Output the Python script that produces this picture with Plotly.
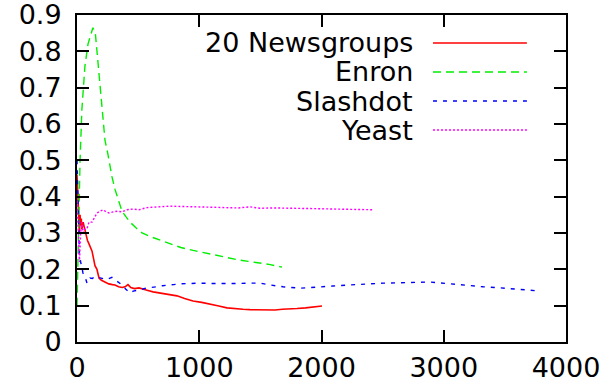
import plotly.graph_objects as go

# --- series data --------------------------------------------------------
news_x = [0, 5, 10, 15, 20, 25, 30, 35, 40, 50, 57, 65, 75, 85, 98, 110, 123, 135, 147, 163,
          180, 200, 229, 260, 290, 311, 340, 370, 393, 417, 440, 470, 507, 540, 580, 622, 660,
          703, 760, 818, 880, 949, 1020, 1088, 1160, 1227, 1300, 1358, 1415, 1497, 1554, 1620,
          1680, 1742, 1800, 1870, 1940, 2004]
news_y = [0.46, 0.42, 0.38, 0.33, 0.30, 0.35, 0.32, 0.34, 0.31, 0.33, 0.32, 0.30, 0.29, 0.28,
          0.27, 0.26, 0.25, 0.23, 0.21, 0.20, 0.176, 0.17, 0.165, 0.16, 0.158, 0.157, 0.152,
          0.15, 0.152, 0.158, 0.15, 0.147, 0.149, 0.145, 0.142, 0.138, 0.136, 0.134, 0.13,
          0.127, 0.12, 0.113, 0.109, 0.105, 0.099, 0.094, 0.091, 0.09, 0.089, 0.088, 0.087,
          0.088, 0.09, 0.092, 0.092, 0.094, 0.096, 0.099]

enron_x = [0, 8, 15, 25, 40, 65, 90, 106, 130, 150, 163, 188, 213, 229, 254, 286, 311, 344,
           368, 400, 434, 480, 532, 600, 679, 760, 850, 950, 1050, 1130, 1227, 1320, 1400,
           1497, 1580, 1677]
enron_y = [0.10, 0.25, 0.38, 0.50, 0.64, 0.76, 0.82, 0.84, 0.865, 0.85, 0.80, 0.70, 0.60,
           0.555, 0.515, 0.455, 0.42, 0.383, 0.36, 0.345, 0.33, 0.315, 0.30, 0.29, 0.28,
           0.27, 0.26, 0.252, 0.245, 0.24, 0.232, 0.226, 0.222, 0.218, 0.213, 0.206]

slash_x = [0, 5, 10, 15, 20, 30, 40, 49, 57, 70, 82, 95, 106, 125, 147, 172, 204, 240, 286,
           320, 352, 368, 400, 434, 460, 490, 507, 540, 573, 620, 654, 700, 736, 790, 843,
           920, 1006, 1100, 1227, 1320, 1415, 1497, 1580, 1685, 1824, 1950, 2094, 2230, 2372,
           2510, 2642, 2770, 2888, 2960, 3051, 3190, 3321, 3460, 3599, 3700, 3763]
slash_y = [0.50, 0.42, 0.33, 0.26, 0.24, 0.22, 0.20, 0.19, 0.18, 0.175, 0.162, 0.17, 0.176,
           0.175, 0.18, 0.178, 0.176, 0.172, 0.178, 0.17, 0.163, 0.157, 0.145, 0.135, 0.14,
           0.143, 0.143, 0.146, 0.149, 0.15, 0.152, 0.155, 0.157, 0.158, 0.16, 0.161, 0.162,
           0.161, 0.16, 0.161, 0.162, 0.162, 0.157, 0.152, 0.148, 0.15, 0.154, 0.157, 0.16,
           0.162, 0.163, 0.164, 0.165, 0.163, 0.16, 0.156, 0.152, 0.149, 0.146, 0.143, 0.141]

yeast_x = [0, 10, 20, 30, 40, 49, 60, 80, 98, 123, 147, 163, 190, 213, 240, 262, 294, 330,
           368, 409, 460, 507, 573, 650, 761, 850, 949, 1050, 1130, 1227, 1320, 1415, 1497,
           1600, 1685, 1800, 1950, 2094, 2250, 2421]
yeast_y = [0.40, 0.30, 0.22, 0.30, 0.33, 0.30, 0.31, 0.31, 0.33, 0.33, 0.345, 0.355, 0.36,
           0.364, 0.358, 0.355, 0.358, 0.36, 0.358, 0.364, 0.366, 0.364, 0.37, 0.372, 0.374,
           0.373, 0.372, 0.371, 0.37, 0.37, 0.369, 0.372, 0.368, 0.369, 0.369, 0.368, 0.367,
           0.366, 0.365, 0.364]

series_names = ["20 Newsgroups", "Enron", "Slashdot", "Yeast"]
x_ticks = [0, 1000, 2000, 3000, 4000]
y_ticks = [0, 0.1, 0.2, 0.3, 0.4, 0.5, 0.6, 0.7, 0.8, 0.9]
y_tick_text = ["0", "0.1", "0.2", "0.3", "0.4", "0.5", "0.6", "0.7", "0.8", "0.9"]

# --- styling ------------------------------------------------------------
FONT = "DejaVu Sans, Liberation Sans, sans-serif"
styles = [
    dict(color="#ff0000", dash="solid", width=1.6),
    dict(color="#00ee00", dash="8px,5px", width=1.4),
    dict(color="#0000ff", dash="4px,6px", width=1.4),
    dict(color="#ff00ff", dash="2px,2px", width=1.4),
]

fig = go.Figure()
for name, xs, ys, st in zip(series_names,
                            [news_x, enron_x, slash_x, yeast_x],
                            [news_y, enron_y, slash_y, yeast_y],
                            styles):
    fig.add_trace(go.Scatter(x=xs, y=ys, mode="lines", name=name, line=st,
                             showlegend=False))

# key drawn inside the plot area: label right-aligned, sample line to its right
key_rows = [0.9144, 0.8257, 0.7370, 0.6483]
for name, st, yy in zip(series_names, styles, key_rows):
    fig.add_annotation(x=0.683, y=yy, xref="paper", yref="paper", text=name,
                       showarrow=False, xanchor="right", yanchor="middle",
                       xshift=3, borderpad=0,
                       font=dict(family=FONT, size=27, color="black"))
    fig.add_shape(type="line", xref="paper", yref="paper", x0=0.728, x1=0.920,
                  y0=yy, y1=yy, line=st)

axis_common = dict(showline=True, linecolor="black", linewidth=2, mirror="ticks",
                   ticks="inside", ticklen=12, tickwidth=2, tickcolor="black",
                   showgrid=False, zeroline=False, automargin=False,
                   ticklabeloverflow="allow",
                   tickfont=dict(family=FONT, size=27, color="black"))

fig.update_xaxes(range=[0, 4000], tickvals=x_ticks, ticklabelstandoff=1, **axis_common)
fig.update_yaxes(range=[0, 0.9], tickvals=y_ticks, ticktext=y_tick_text,
                 ticklabelstandoff=8, **axis_common)

fig.update_layout(width=609, height=389,
                  margin=dict(l=77, r=43, t=15, b=47, autoexpand=False),
                  paper_bgcolor="white", plot_bgcolor="white")

fig.write_html("out.html")
